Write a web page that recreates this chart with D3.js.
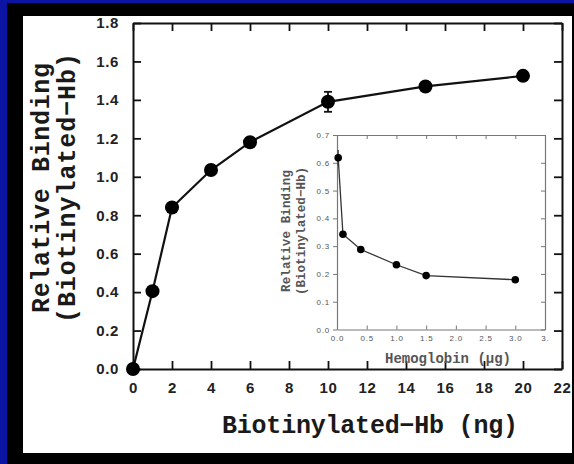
<!DOCTYPE html>
<html>
<head>
<meta charset="utf-8">
<script src="https://cdn.jsdelivr.net/npm/d3@7"></script>
<style>
  body { margin: 0; background: #0c14a4; }
  svg { display: block; }
</style>
</head>
<body>
<svg width="574" height="464"></svg>
<script>
// Main chart data
const amountNg = [0, 1, 2, 4, 6, 10, 15, 20];
const binding = [0, 0.405, 0.84, 1.035, 1.18, 1.39, 1.47, 1.525];
const bindingErr = [0, 0, 0, 0, 0, 0.052, 0, 0];
const xTicks = [0, 2, 4, 6, 8, 10, 12, 14, 16, 18, 20, 22];
const yTicks = [0, 0.2, 0.4, 0.6, 0.8, 1.0, 1.2, 1.4, 1.6, 1.8];

// Inset data
const hbUg = [0.02, 0.1, 0.4, 1.0, 1.5, 3.0];
const insetBinding = [0.618, 0.343, 0.288, 0.233, 0.194, 0.179];
const insetErr = [0.028, 0, 0, 0, 0, 0];
const insetXTicks = [0, 0.5, 1.0, 1.5, 2.0, 2.5, 3.0, 3.5];
const insetXLabels = ["0.0", "0.5", "1.0", "1.5", "2.0", "2.5", "3.0", "3."];
const insetYTicks = [0, 0.1, 0.2, 0.3, 0.4, 0.5, 0.6, 0.7];

const svg = d3.select("svg");

// Frame: blue border, black band, white panel
svg.append("rect").attr("x", 7).attr("y", 3).attr("width", 567).attr("height", 461).attr("fill", "#000");
svg.append("rect").attr("x", 23).attr("y", 16).attr("width", 549).attr("height", 437).attr("fill", "#fff");

const mono = "'Liberation Mono', 'Courier New', monospace";
const sans = "'Liberation Sans', Arial, sans-serif";

// Main scales
const x = d3.scaleLinear().domain([0, 22]).range([133, 562]);
const y = d3.scaleLinear().domain([0, 1.8]).range([369, 23]);

// Ticks on all four sides, pointing inward
const g = svg.append("g");
g.append("g").attr("transform", "translate(0,369)")
  .call(d3.axisBottom(x).tickValues(xTicks).tickSizeInner(-8).tickSizeOuter(0).tickPadding(13).tickFormat(d3.format("d")));
g.append("g").attr("transform", "translate(0,23)")
  .call(d3.axisTop(x).tickValues(xTicks).tickSizeInner(-8).tickSizeOuter(0).tickFormat(""));
g.append("g").attr("transform", "translate(133,0)")
  .call(d3.axisLeft(y).tickValues(yTicks).tickSizeInner(-8).tickSizeOuter(0).tickPadding(14).tickFormat(d3.format(".1f")));
g.append("g").attr("transform", "translate(562,0)")
  .call(d3.axisRight(y).tickValues(yTicks).tickSizeInner(-8).tickSizeOuter(0).tickFormat(""));

g.selectAll(".domain").attr("stroke", "#111").attr("stroke-width", 2);
g.selectAll(".tick line").attr("stroke", "#111").attr("stroke-width", 1.8);
g.selectAll(".tick text")
  .attr("fill", "#222")
  .style("font-family", sans)
  .style("font-weight", "bold")
  .style("font-size", "15px")
  .style("letter-spacing", "0.6px");

// Axis titles
svg.append("text")
  .attr("x", 370).attr("y", 433)
  .attr("text-anchor", "middle")
  .attr("textLength", 296)
  .style("font-family", mono).style("font-weight", "bold").style("font-size", "25px")
  .attr("fill", "#1a1a1a")
  .text("Biotinylated\u2212Hb (ng)");

const yTitle = svg.append("text")
  .attr("transform", "translate(49,188) rotate(-90)")
  .attr("text-anchor", "middle")
  .style("font-family", mono).style("font-weight", "bold").style("font-size", "25px")
  .attr("fill", "#1a1a1a");
yTitle.append("tspan").attr("x", 0).attr("y", 0).attr("textLength", 250).text("Relative Binding");
yTitle.append("tspan").attr("x", 0).attr("y", 26).attr("textLength", 270).text("(Biotinylated\u2212Hb)");

// Main line, error bar and markers
const mainData = amountNg.map((d, i) => ({ x: d, y: binding[i], e: bindingErr[i] }));
svg.append("path")
  .datum(mainData)
  .attr("fill", "none")
  .attr("stroke", "#111")
  .attr("stroke-width", 2.2)
  .attr("d", d3.line().x(d => x(d.x)).y(d => y(d.y)));

const errMain = svg.selectAll(".errMain").data(mainData.filter(d => d.e > 0)).enter().append("g");
errMain.append("line")
  .attr("x1", d => x(d.x)).attr("x2", d => x(d.x))
  .attr("y1", d => y(d.y - d.e)).attr("y2", d => y(d.y + d.e))
  .attr("stroke", "#111").attr("stroke-width", 1.8);
errMain.selectAll("line.cap").data(d => [d.y - d.e, d.y + d.e].map(v => ({ x: d.x, v }))).enter()
  .append("line").attr("class", "cap")
  .attr("x1", d => x(d.x) - 4).attr("x2", d => x(d.x) + 4)
  .attr("y1", d => y(d.v)).attr("y2", d => y(d.v))
  .attr("stroke", "#111").attr("stroke-width", 1.8);

svg.selectAll(".dot").data(mainData).enter().append("circle")
  .attr("cx", d => x(d.x)).attr("cy", d => y(d.y))
  .attr("r", 7)
  .attr("fill", "#000");

// Inset
const ix = d3.scaleLinear().domain([0, 3.5]).range([337, 545]);
const iy = d3.scaleLinear().domain([0, 0.7]).range([329.5, 135]);

svg.append("rect")
  .attr("x", 337).attr("y", 135).attr("width", 208).attr("height", 194.5)
  .attr("fill", "#fff");

const ig = svg.append("g");
ig.append("g").attr("transform", "translate(0,329.5)")
  .call(d3.axisBottom(ix).tickValues(insetXTicks).tickSizeInner(-4).tickSizeOuter(0).tickPadding(6)
    .tickFormat((d, i) => insetXLabels[i]));
ig.append("g").attr("transform", "translate(0,135)")
  .call(d3.axisTop(ix).tickValues(insetXTicks).tickSizeInner(-4).tickSizeOuter(0).tickFormat(""));
ig.append("g").attr("transform", "translate(337,0)")
  .call(d3.axisLeft(iy).tickValues(insetYTicks).tickSizeInner(4).tickSizeOuter(0).tickPadding(3).tickFormat(d3.format(".1f")));
ig.append("g").attr("transform", "translate(545,0)")
  .call(d3.axisRight(iy).tickValues(insetYTicks).tickSizeInner(-4).tickSizeOuter(0).tickFormat(""));

ig.selectAll(".domain").attr("stroke", "#777").attr("stroke-width", 1.2);
ig.selectAll(".tick line").attr("stroke", "#777").attr("stroke-width", 1);
ig.selectAll(".tick text")
  .attr("fill", "#555")
  .style("font-family", sans)
  .style("font-size", "8px")
  .style("letter-spacing", "0.8px");

svg.append("text")
  .attr("x", 448).attr("y", 363)
  .attr("text-anchor", "middle")
  .style("font-family", mono).style("font-size", "14px").style("font-weight", "bold")
  .attr("fill", "#555")
  .text("Hemoglobin (\u03bcg)");

const iyTitle = svg.append("text")
  .attr("transform", "translate(290,231) rotate(-90)")
  .attr("text-anchor", "middle")
  .style("font-family", mono).style("font-size", "12.5px").style("font-weight", "bold")
  .attr("fill", "#555");
iyTitle.append("tspan").attr("x", 0).attr("y", 0).attr("textLength", 122).text("Relative Binding");
iyTitle.append("tspan").attr("x", 0).attr("y", 15).attr("textLength", 128).text("(Biotinylated\u2212Hb)");

const insetData = hbUg.map((d, i) => ({ x: d, y: insetBinding[i], e: insetErr[i] }));
svg.append("path")
  .datum(insetData)
  .attr("fill", "none")
  .attr("stroke", "#333")
  .attr("stroke-width", 1.3)
  .attr("d", d3.line().x(d => ix(d.x)).y(d => iy(d.y)));

svg.selectAll(".ierr").data(insetData.filter(d => d.e > 0)).enter().append("line")
  .attr("x1", d => ix(d.x)).attr("x2", d => ix(d.x))
  .attr("y1", d => iy(d.y - d.e)).attr("y2", d => iy(d.y + d.e))
  .attr("stroke", "#333").attr("stroke-width", 1.2);

svg.selectAll(".idot").data(insetData).enter().append("circle")
  .attr("cx", d => ix(d.x)).attr("cy", d => iy(d.y))
  .attr("r", 3.8)
  .attr("fill", "#000");
</script>
</body>
</html>
